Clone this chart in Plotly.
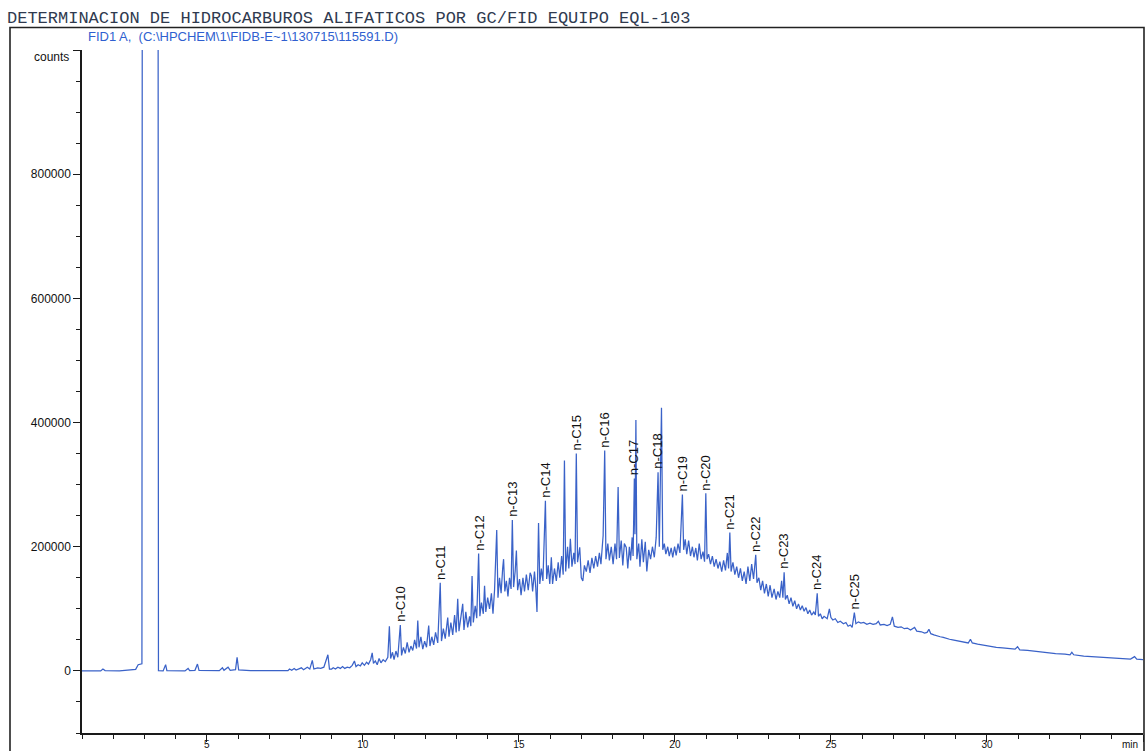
import plotly.graph_objects as go

# ---------------- data ----------------
retention_time_min = [
    1.00, 1.40, 1.60, 1.67, 1.74, 2.20, 2.50, 2.72, 2.80, 2.92, 2.95, 3.42, 3.45, 3.60, 3.68, 3.72,
    4.30, 4.40, 4.45, 4.62, 4.70, 4.75, 5.40, 5.50, 5.55, 5.68, 5.75, 5.92, 5.97, 6.02, 6.40, 7.60,
    7.65, 7.72, 7.80, 7.86, 8.03, 8.10, 8.22, 8.30, 8.38, 8.43, 8.55, 8.65, 8.75, 8.88, 8.93,
    9.00, 9.05, 9.12, 9.20, 9.28, 9.35, 9.42, 9.50, 9.58, 9.66, 9.73, 9.78, 9.85, 9.92, 9.98,
    10.05, 10.12, 10.18, 10.25, 10.30, 10.34, 10.40, 10.46, 10.52, 10.58, 10.65, 10.72, 10.80, 10.85, 10.89, 10.95,
    11.00, 11.06, 11.12, 11.20, 11.24, 11.30, 11.36, 11.42, 11.48, 11.54, 11.60, 11.66, 11.72, 11.76, 11.80, 11.86, 11.92, 11.98,
    12.04, 12.11, 12.15, 12.21, 12.27, 12.33, 12.40, 12.48, 12.52, 12.58, 12.64, 12.72, 12.76, 12.82, 12.88, 12.94, 12.99,
    13.04, 13.08, 13.14, 13.20, 13.24, 13.30, 13.36, 13.42, 13.46, 13.50, 13.54, 13.60, 13.65, 13.71, 13.75, 13.80, 13.86, 13.90, 13.94,
    14.00, 14.06, 14.12, 14.17, 14.22, 14.29, 14.33, 14.38, 14.43, 14.48, 14.51, 14.55, 14.60, 14.65, 14.70, 14.75, 14.79, 14.83, 14.88, 14.92, 14.96,
    15.02, 15.07, 15.13, 15.18, 15.24, 15.30, 15.36, 15.40, 15.44, 15.50, 15.54, 15.58, 15.63, 15.67, 15.72, 15.77, 15.85, 15.89, 15.94, 15.99,
    16.04, 16.08, 16.14, 16.20, 16.26, 16.31, 16.37, 16.42, 16.46, 16.50, 16.56, 16.60, 16.65, 16.70, 16.76, 16.80, 16.84, 16.88, 16.95,
    17.00, 17.05, 17.10, 17.16, 17.22, 17.28, 17.34, 17.40, 17.46, 17.52, 17.58, 17.63, 17.70, 17.75, 17.79, 17.85, 17.90, 17.96,
    18.02, 18.08, 18.13, 18.18, 18.22, 18.28, 18.33, 18.38, 18.44, 18.49, 18.54, 18.58, 18.63, 18.66, 18.70, 18.72, 18.75, 18.78, 18.84, 18.88, 18.94, 18.99,
    19.05, 19.10, 19.16, 19.22, 19.28, 19.34, 19.40, 19.46, 19.50, 19.57, 19.61, 19.66, 19.71, 19.77, 19.82, 19.88, 19.93, 19.99,
    20.04, 20.10, 20.16, 20.20, 20.24, 20.28, 20.33, 20.38, 20.44, 20.50, 20.56, 20.61, 20.67, 20.72, 20.78, 20.84, 20.90, 20.95, 20.99,
    21.03, 21.08, 21.14, 21.20, 21.26, 21.32, 21.38, 21.44, 21.50, 21.56, 21.62, 21.68, 21.72, 21.76, 21.80, 21.86, 21.92, 21.98,
    22.04, 22.10, 22.16, 22.22, 22.28, 22.34, 22.40, 22.46, 22.52, 22.59, 22.63, 22.69, 22.75, 22.81, 22.87, 22.93, 22.99,
    23.05, 23.11, 23.18, 23.24, 23.30, 23.36, 23.42, 23.46, 23.50, 23.54, 23.60, 23.66, 23.72, 23.78, 23.84, 23.90, 23.96,
    24.02, 24.08, 24.14, 24.20, 24.26, 24.32, 24.38, 24.45, 24.50, 24.56, 24.60, 24.66, 24.72, 24.78, 24.88, 24.95,
    25.00, 25.06, 25.14, 25.22, 25.30, 25.40, 25.48, 25.55, 25.62, 25.68, 25.75, 25.80, 25.88, 25.96,
    26.05, 26.15, 26.25, 26.35, 26.45, 26.52, 26.58, 26.70, 26.80, 26.90, 26.97,
    27.03, 27.15, 27.25, 27.35, 27.45, 27.55, 27.68, 27.75, 27.90, 28.00, 28.08, 28.14, 28.20, 28.30, 28.40, 28.50,
    28.60, 28.70, 28.80, 28.90, 29.00, 29.20, 29.40, 29.47, 29.53, 29.70, 29.90, 30.10, 30.30, 30.50, 30.70, 30.90,
    30.98, 31.05, 31.30, 31.60, 31.90, 32.20, 32.50, 32.66, 32.72, 32.78, 33.10, 33.40, 33.70, 34.00, 34.30, 34.60,
    34.73, 34.80, 35.00,
]

signal_counts = [
    0, 500, 0, 3000, 500, 0, 1500, 2500, 10000, 11500, 3000000, 3000000, 500, 0, 10000, 500,
    0, 4000, 500, 1000, 11000, 1000, 500, 5000, 1000, 6000, 1000, 2000, 22000, 1500, 500, 500,
    3000, 1000, 4000, 1500, 5000, 2000, 6000, 3000, 17000, 3000, 5000, 4000, 6000, 26000, 3000,
    3000, 5000, 3000, 6000, 4000, 7000, 4000, 6000, 5000, 9000, 16000, 7000, 10000, 8000, 13000,
    9000, 14000, 11000, 18000, 29000, 12000, 16000, 10000, 20000, 13000, 18000, 15000, 22000, 72000, 20000, 30000,
    18000, 32000, 22000, 74000, 25000, 38000, 28000, 46000, 30000, 40000, 33000, 50000, 36000, 81000, 38000, 55000, 35000, 48000,
    38000, 73000, 40000, 55000, 42000, 62000, 45000, 142000, 48000, 68000, 52000, 86000, 55000, 78000, 58000, 90000, 62000,
    116000, 64000, 85000, 108000, 66000, 95000, 70000, 88000, 72000, 153000, 78000, 105000, 85000, 189000, 88000, 110000, 92000, 137000, 95000,
    118000, 100000, 125000, 92000, 130000, 227000, 118000, 150000, 125000, 165000, 180000, 128000, 145000, 120000, 150000, 132000, 243000, 135000, 160000, 194000, 130000,
    148000, 122000, 150000, 128000, 155000, 130000, 158000, 153000, 128000, 160000, 135000, 95000, 238000, 140000, 165000, 145000, 274000, 148000, 170000, 140000,
    183000, 140000, 165000, 145000, 175000, 150000, 185000, 155000, 339000, 160000, 200000, 165000, 213000, 168000, 190000, 172000, 350000, 175000, 199000,
    150000, 145000, 170000, 160000, 178000, 158000, 182000, 165000, 185000, 168000, 190000, 172000, 218000, 355000, 180000, 205000, 178000, 200000,
    172000, 205000, 180000, 296000, 182000, 210000, 170000, 205000, 199000, 165000, 200000, 178000, 215000, 185000, 310000, 220000, 404000, 180000, 205000, 168000, 212000, 175000,
    208000, 160000, 195000, 180000, 200000, 183000, 215000, 320000, 200000, 424000, 195000, 205000, 188000, 200000, 185000, 198000, 183000, 200000,
    186000, 205000, 190000, 237000, 284000, 195000, 212000, 188000, 210000, 185000, 200000, 183000, 198000, 178000, 205000, 180000, 192000, 176000, 286000,
    180000, 188000, 172000, 185000, 168000, 180000, 165000, 176000, 160000, 178000, 162000, 190000, 165000, 223000, 160000, 175000, 155000, 168000,
    150000, 165000, 145000, 160000, 140000, 168000, 145000, 172000, 148000, 187000, 142000, 150000, 130000, 145000, 125000, 140000, 120000,
    138000, 118000, 132000, 115000, 128000, 118000, 145000, 118000, 159000, 115000, 122000, 108000, 118000, 104000, 113000, 100000, 108000,
    98000, 105000, 96000, 102000, 92000, 98000, 90000, 95000, 90000, 125000, 88000, 92000, 84000, 88000, 84000, 100000,
    86000, 82000, 84000, 78000, 80000, 76000, 78000, 72000, 74000, 70000, 94000, 76000, 79000, 77000,
    78000, 75000, 77000, 75000, 76000, 80000, 74000, 75000, 73000, 75000, 87000,
    72000, 70000, 71000, 68000, 69000, 66000, 70000, 64000, 63000, 61000, 62000, 67000, 60000, 58000, 56000, 55000,
    54000, 52000, 51000, 50000, 49000, 47000, 45000, 51000, 45000, 43000, 41000, 39000, 38000, 37000, 36000, 35000,
    39000, 34000, 33000, 31000, 29000, 28000, 27000, 26000, 30000, 26000, 24000, 23000, 22000, 21000, 20000, 19000,
    23000, 19000, 18000,
]

alkane_labels = ["n-C10", "n-C11", "n-C12", "n-C13", "n-C14", "n-C15", "n-C16", "n-C17",
                 "n-C18", "n-C19", "n-C20", "n-C21", "n-C22", "n-C23", "n-C24", "n-C25"]
alkane_rt = [11.20, 12.48, 13.71, 14.79, 15.85, 16.84, 17.75, 18.70,
             19.46, 20.24, 20.99, 21.76, 22.59, 23.50, 24.56, 25.75]

y_tick_values = [0, 200000, 400000, 600000, 800000, 1000000]
y_tick_text = ["0", "200000", "400000", "600000", "800000", ""]
x_tick_values = [5, 10, 15, 20, 25, 30, 35]
x_tick_text = ["5", "10", "15", "20", "25", "30", ""]

chart_title = "DETERMINACION DE HIDROCARBUROS ALIFATICOS POR GC/FID EQUIPO EQL-103"
signal_name = r"FID1 A,  (C:\HPCHEM\1\FIDB-E~1\130715\115591.D)"

# ---------------- figure ----------------
W, H = 1147, 751
ML, MR, MT, MB = 82, 4, 50, 18
PW, PH = W - ML - MR, H - MT - MB


def px_x(px):
    return (px - ML) / PW


def px_y(py):
    return (H - MB - py) / PH


fig = go.Figure()
fig.add_trace(go.Scatter(
    x=retention_time_min, y=signal_counts, mode="lines",
    line=dict(color="#3a62c8", width=1.25), hoverinfo="skip", showlegend=False,
))

label_font = dict(family="Liberation Sans, Arial, sans-serif", size=13, color="#111111")
for lab, rt in zip(alkane_labels, alkane_rt):
    apex = signal_counts[retention_time_min.index(rt)]
    fig.add_annotation(x=rt, y=apex, text=lab, textangle=-90, showarrow=False,
                       xanchor="center", yanchor="bottom", yshift=1, font=label_font)

# signal file name
fig.add_annotation(xref="paper", yref="paper", x=px_x(86), y=px_y(37), text=signal_name,
                   showarrow=False, xanchor="left", yanchor="middle",
                   font=dict(family="Liberation Sans, Arial, sans-serif", size=13, color="#2f5fd0"))
# axis unit labels
fig.add_annotation(xref="paper", yref="paper", x=px_x(71), y=px_y(57), text="counts",
                   showarrow=False, xanchor="right", yanchor="middle",
                   font=dict(family="Liberation Sans, Arial, sans-serif", size=12, color="#111111"))
fig.add_annotation(xref="paper", yref="paper", x=px_x(1120), y=px_y(744), text="min",
                   showarrow=False, xanchor="left", yanchor="middle",
                   font=dict(family="Liberation Sans, Arial, sans-serif", size=10, color="#111111"))

# outer report frame
fig.add_shape(type="rect", xref="paper", yref="paper",
              x0=px_x(10), x1=px_x(1144), y0=px_y(770), y1=px_y(27.5),
              line=dict(color="#222222", width=1.6), fillcolor="rgba(0,0,0,0)", layer="above")

axis_font = dict(family="Liberation Sans, Arial, sans-serif", size=12, color="#111111")
fig.update_layout(
    width=W, height=H, autosize=False,
    margin=dict(l=ML, r=MR, t=MT, b=MB, pad=0, autoexpand=False),
    paper_bgcolor="white", plot_bgcolor="white", showlegend=False,
    title=dict(text=chart_title, xref="container", yref="container",
               x=7 / W, y=1 - 17 / H, xanchor="left", yanchor="middle",
               font=dict(family="Liberation Mono, Courier New, monospace", size=17, color="#2f3a4f")),
    xaxis=dict(range=[1, 35], showgrid=False, zeroline=False, showline=True,
               linecolor="#1a1a1a", linewidth=1.5, ticks="outside", ticklen=7, tickwidth=1.3,
               tickcolor="#1a1a1a", tickmode="array", tickvals=x_tick_values, ticktext=x_tick_text,
               tickfont=dict(family="Liberation Sans, Arial, sans-serif", size=10, color="#111111"),
               ticklabelstandoff=-6, automargin=False,
               minor=dict(ticks="outside", ticklen=4, tickmode="linear", tick0=0, dtick=1,
                          tickcolor="#1a1a1a", tickwidth=1.2)),
    yaxis=dict(range=[-100000, 1000000], showgrid=False, zeroline=False, showline=True,
               linecolor="#1a1a1a", linewidth=1.5, ticks="outside", ticklen=7, tickwidth=1.3,
               tickcolor="#1a1a1a", tickmode="array", tickvals=y_tick_values, ticktext=y_tick_text,
               tickfont=axis_font, automargin=False,
               minor=dict(ticks="outside", ticklen=4, tickmode="linear", tick0=0, dtick=50000,
                          tickcolor="#1a1a1a", tickwidth=1.2)),
)

fig.write_html("out.html")
